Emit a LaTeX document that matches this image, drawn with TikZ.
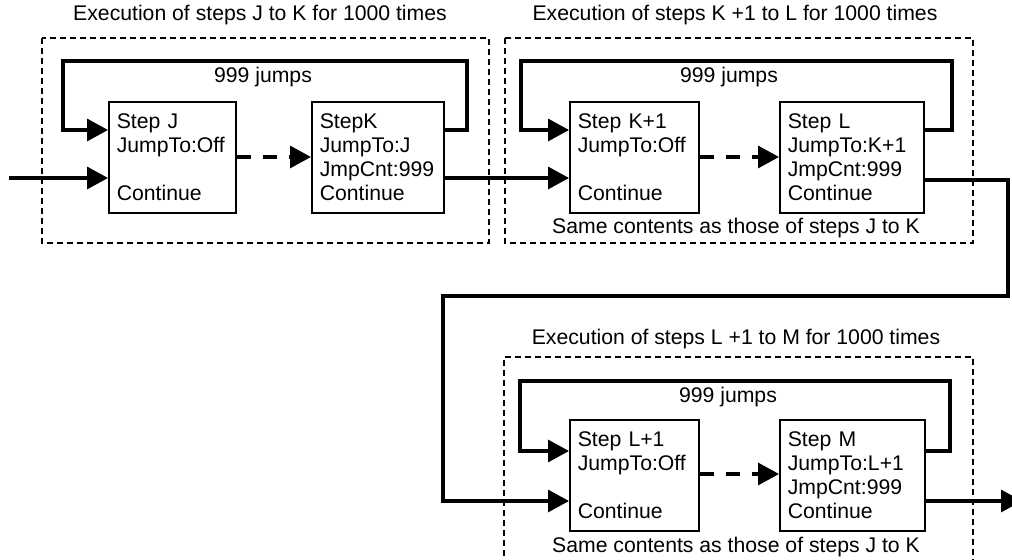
\documentclass[tikz,border=0pt]{standalone}
\usepackage{fontspec}
\setmainfont{Liberation Sans}
\usetikzlibrary{arrows.meta}

\tikzset{
  stepbox/.style={draw,line width=0.85pt,align=left,anchor=north west,inner xsep=4pt,minimum height=55.5pt,text width=#1},
  flow/.style={line width=1.65pt,-{Triangle[length=10.5pt,width=11pt]}},
  jumpflow/.style={flow,dash pattern=on 7pt off 6pt},
  groupbox/.style={line width=0.65pt,dash pattern=on 3pt off 2pt},
}

\begin{document}
\begin{tikzpicture}[x=0.5pt,y=-0.5pt,font=\fontsize{10.6}{12}\selectfont]
\useasboundingbox (0,0) rectangle (1012,560);
% Steps J to K
\draw[groupbox] (42,38) rectangle (489,243);
\node (titlejk) at (260,15) {Execution of steps J to K for 1000 times};
\node[stepbox=55.5pt] (stepj) at (108,101) {Step J\\JumpTo:Off\\[12pt]Continue};
\node[stepbox=58pt] (stepk) at (311,101) {StepK\\JumpTo:J\\JmpCnt:999\\Continue};
\node (jumpsjk) at (263,77) {999 jumps};
\coordinate (start) at (9,178);
\draw[flow] (start) -- (stepj.west |- start);
\draw[jumpflow] (stepj.east |- 0,157) -- (stepk.west |- 0,157);
\draw[flow] (stepk.east |- 0,130) -| (467,61) -| (63,130) -- (stepj.west |- 0,130);
% Steps K+1 to L
\draw[groupbox] (505,38) rectangle (973,243);
\node (titlekl) at (735,15) {Execution of steps K +1 to L for 1000 times};
\node[stepbox=56.5pt] (stepka) at (569,101) {Step K+1\\JumpTo:Off\\[12pt]Continue};
\node[stepbox=64pt] (stepl) at (779,101) {Step L\\JumpTo:K+1\\JmpCnt:999\\Continue};
\node (jumpskl) at (729,77) {999 jumps};
\node (samekl) at (736,228) {Same contents as those of steps J to K};
\draw[flow] (stepk.east |- 0,178) -- (stepka.west |- 0,178);
\draw[jumpflow] (stepka.east |- 0,157) -- (stepl.west |- 0,157);
\draw[flow] (stepl.east |- 0,130) -| (952,61) -| (521,130) -- (stepka.west |- 0,130);
% Steps L+1 to M
\draw[groupbox] (504,566) |- (973,357) -- (973,566);
\node (titlelm) at (736,339) {Execution of steps L +1 to M for 1000 times};
\node[stepbox=56.5pt] (stepla) at (569,419) {Step L+1\\JumpTo:Off\\[12pt]Continue};
\node[stepbox=64.5pt] (stepm) at (779,419) {Step M\\JumpTo:L+1\\JmpCnt:999\\Continue};
\node (jumpslm) at (728,397) {999 jumps};
\node (samelm) at (736,547) {Same contents as those of steps J to K};
\draw[flow] (stepl.east |- 0,180) -| (1008,296) -| (443,501) -- (stepla.west |- 0,501);
\draw[jumpflow] (stepla.east |- 0,474) -- (stepm.west |- 0,474);
\draw[flow] (stepm.east |- 0,451) -| (950,381) -| (520,451) -- (stepla.west |- 0,451);
\coordinate (finish) at (1022,501);
\draw[flow] (stepm.east |- finish) -- (finish);
\end{tikzpicture}
\end{document}
